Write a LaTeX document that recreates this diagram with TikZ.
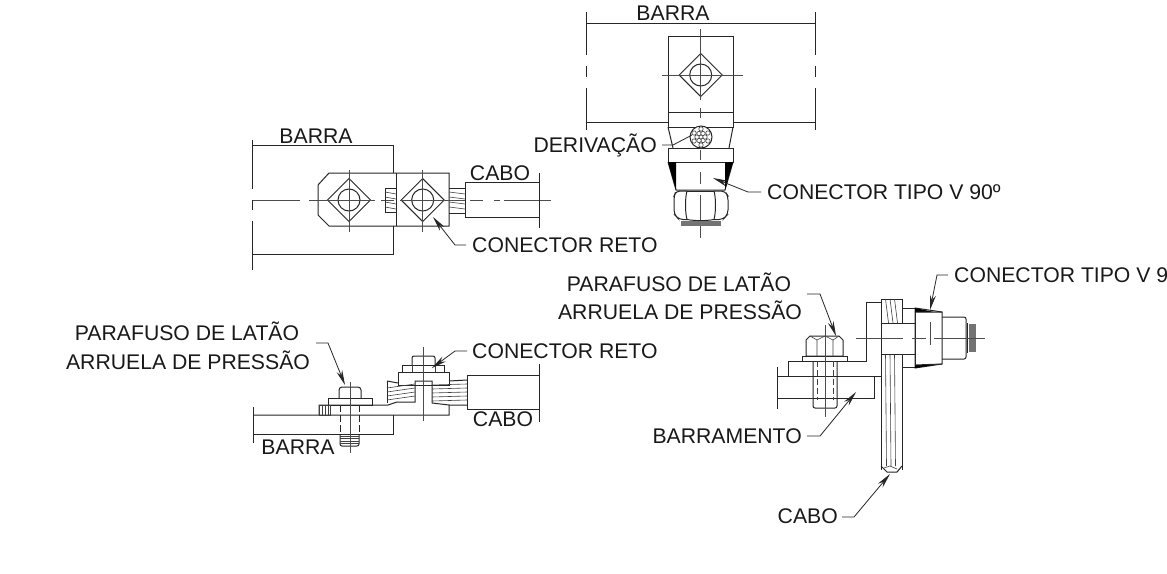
\documentclass[tikz,border=0pt]{standalone}
\usepackage{fontspec}
\setmainfont{Liberation Sans}
\usetikzlibrary{arrows.meta}
\tikzset{
  ln/.style={line width=1pt,draw=black!85},
  thin ln/.style={line width=.6pt,draw=black!75},
  ctr/.style={line width=.8pt,draw=black!70},
  lbl/.style={font=\fontsize{21.2}{23}\selectfont,inner sep=0pt,text=black!90},
  leader/.style={line width=.8pt,draw=black!85,-{Stealth[length=15pt,width=6pt]}},
}
\begin{document}
\begin{tikzpicture}[x=1pt,y=-1pt]
\useasboundingbox (0,0) rectangle (1167,573);
\clip (0,0) rectangle (1167,573);
\fill[white] (0,0) rectangle (1167,573);

% ---------- labels
\node[lbl] (b1) at (316,136) {BARRA};
\node[lbl] (c1) at (500,173) {CABO};
\node[lbl,anchor=west] (cr1) at (472,245) {CONECTOR RETO};
\node[lbl] (b2) at (673,13) {BARRA};
\node[lbl,anchor=east] (der) at (657,145) {DERIVAÇÃO};
\node[lbl,anchor=west] (cv1) at (767,192) {CONECTOR TIPO V 90º};
\node[lbl,anchor=west] (cv2) at (954,275) {CONECTOR TIPO V 9};
\node[lbl] (pa) at (679,282) {PARAFUSO DE LATÃO};
\node[lbl] (ar) at (680,310) {ARRUELA DE PRESSÃO};
\node[lbl,anchor=east] (bm) at (802,436) {BARRAMENTO};
\node[lbl,anchor=east] (c3) at (838,516) {CABO};
\node[lbl] (pb) at (187,331) {PARAFUSO DE LATÃO};
\node[lbl] (ab) at (188,360) {ARRUELA DE PRESSÃO};
\node[lbl,anchor=west] (cr2) at (472,351) {CONECTOR RETO};
\node[lbl] (c2) at (503,419) {CABO};
\node[lbl] (b3) at (298,447) {BARRA};

% ---------- VIEW 1: top-left connector
\draw[ln] (252.7,140)--(252.7,189) (252.7,200)--(252.7,210) (252.7,221)--(252.7,270);
\draw[ln] (252.7,145)--(393,145)--(393,173) (252.7,254)--(393,254)--(393,226);
\draw[ln] (329,173)--(318,185)--(318,215)--(329,226)--(449,226)--(449,173)--cycle;
\draw[ln] (396,173)--(396,226);
\foreach \cx in {349,422.7}{
  \draw[ln] (\cx-21.5,200)--(\cx,178.5)--(\cx+21.5,200)--(\cx,221.5)--cycle;
  \draw[ln] (\cx,200) circle (11);
  \draw[ctr] (\cx,170)--(\cx,232);
}
\draw[ctr] (253,200)--(300,200) (309,200)--(375,200) (381,200)--(394,200) (400,200)--(466,200) (470,200)--(483,200) (494,200)--(500,200) (504,200)--(551,200);
\draw[ln] (385,188) rectangle (396,212);
\foreach \y in {192,197,202,207}{\draw[thin ln] (385,\y)--(396,\y+2);}
\draw[ln] (465,182)--(539,182) (465,217)--(539,217) (465,182)--(465,217);
\draw[ln] (539,173)--(539,228);
\draw[ln] (449,188)--(465,188) (449,213)--(465,213);
\foreach \y in {192,197,202,207}{\draw[thin ln] (449,\y)--(465,\y+2);}

% ---------- VIEW 2: top-centre connector
\draw[ln] (586,12)--(586,55) (586,66)--(586,77) (586,88)--(586,130);
\draw[ln] (815,12)--(815,55) (815,66)--(815,77) (815,88)--(815,130);
\draw[ln] (586,23.7)--(815,23.7);
\draw[ln] (586,122.7)--(668,122.7) (733,122.7)--(815,122.7);
\draw[ln] (668,36) rectangle (733,127);
\draw[ln] (668,112)--(733,112);
\draw[ln] (668,127)--(673,148) (733,127)--(729,148);
\draw[ln] (700.7,53.5)--(722.2,75)--(700.7,96.5)--(679.2,75)--cycle;
\draw[ln] (700.7,75) circle (11);
\draw[ctr] (662,75)--(743,75) (700.7,29)--(700.7,100) (700.7,108)--(700.7,118) (700.7,150)--(700.7,160) (700.7,172)--(700.7,184) (700.7,195)--(700.7,238);
\draw[ln,fill=white] (701,137) circle (11);
\foreach \a/\r in {0/0,60/4,120/4,180/4,240/4,300/4,360/4,30/8,90/8,150/8,210/8,270/8,330/8}{
  \draw[thin ln,fill=white] (701,137)+(\a:\r) circle (2.2);
}
\draw[ln] (668,148) rectangle (733,162);
\draw[ln] (668,162)--(676,190)--(725,190)--(733,162);
\fill[black] (668,162)--(676,162)--(676,190)--cycle (733,162)--(725,162)--(725,190)--cycle;
\draw[ln,rounded corners=4pt] (687,191)--(676,191)--(674,196)--(674,214)--(679,219.5)--(687,219.5);
\draw[ln,rounded corners=4pt] (714,191)--(725,191)--(728,196)--(728,214)--(723,219.5)--(714,219.5);
\draw[ln] (687,191) .. controls (685,198) and (685,212) .. (687,219.5);
\draw[ln] (714,191) .. controls (716,198) and (716,212) .. (714,219.5);
\draw[ln] (687,219.5) .. controls (695,221) and (706,221) .. (714,219.5);
\draw[ln] (687,191)--(714,191);
\fill[black!55] (681,220.5) rectangle (721,225.5);

% ---------- VIEW 3: bottom-left connector
\draw[ln] (253,407)--(253,443);
\draw[ln] (253,415)--(449,415)--(449,405)--(432,403);
\draw[ln] (253,434)--(393,434)--(393,415);
\draw[ln] (319,415)--(319,405)--(388,405)--(397,402)--(415,402)--(415,381)--(432,381)--(432,403);
\draw[ln] (398,372) rectangle (449,385);
\draw[ln] (402,365) rectangle (444,372);
\draw[ln,rounded corners=2pt] (412,365)--(412,356)--(435,356)--(435,365);
\draw[thin ln] (412,365)--(412,372) (435,365)--(435,372);
\draw[ctr] (423,347)--(423,421);
\draw[ln] (387,381)--(387,403);
\draw[ln] (387,381)--(398,383);
\foreach \y in {386,390,394,398}{\draw[thin ln] (387,\y+2)--(415,\y-2);}
\foreach \y in {385,389,393,397,401}{\draw[thin ln] (432,\y)--(467,\y-1);}
\draw[ln] (449,381)--(467,380) (449,405)--(467,405);
\draw[ln] (467,375)--(539,375) (467,409)--(539,409) (467,375)--(467,409);
\draw[ln] (539,364)--(539,422);
% left bolt
\draw[ln] (328,405) rectangle (372,398);
\draw[ln,rounded corners=3pt] (339,398)--(339,387)--(361,387)--(361,398);
\draw[thin ln] (319,405) rectangle (330,415);
\foreach \x in {322,325,328}{\draw[thin ln] (\x,405)--(\x,415);}
\draw[ln,dashed,dash pattern=on 7pt off 3pt] (340,405)--(340,435) (359,405)--(359,435);
\draw[ln,rounded corners=2pt] (340,435)--(340,446)--(359,446)--(359,435);
\foreach \y in {436,438.5,441,443.5}{\draw[thin ln] (340,\y)--(359,\y);}
\draw[ctr] (350,382)--(350,453);

% ---------- VIEW 4: right connector
\draw[ln] (777,367)--(777,409);
\draw[ln] (777,376)--(881,376) (777,398)--(874,398)--(874,376);
\draw[ln] (788,376)--(788,361)--(866,361)--(866,302)--(881,302);
\draw[ln] (802,356) rectangle (847,361);
\draw[ln] (810,336)--(839,336)--(843,340)--(843,356)--(806,356)--(806,340)--cycle;
\draw[thin ln] (817,340)--(817,356) (833,340)--(833,356) (817,340)--(810,336) (817,340)--(825,336)--(833,340)--(839,336);
\draw[ln,rounded corners=2pt] (813,361)--(813,408)--(837,408)--(837,361);
\draw[thin ln,dashed,dash pattern=on 6pt off 3pt] (817,361)--(817,400) (833,361)--(833,400);
\draw[ctr] (825,325)--(825,417);
% cable
\draw[ln] (881,299)--(881,470) (902,308)--(902,299)--(881,299);
\draw[ln] (902,354)--(902,470);
\foreach \x in {885.5,890,894.5}{
  \draw[thin ln] (\x,299)--(\x+3,323);
  \draw[thin ln] (\x,354)--(\x+1,466);
}
\draw[ln] (881,466)--(887,472)--(897,472)--(902,466);
\draw[thin ln] (884,468)--(890,466)--(897,469);
% bolt and body
\draw[ln,fill=white] (881,323) rectangle (915,354);
\draw[ln] (902,308) rectangle (915,323) (902,354) rectangle (915,367);
\draw[ln] (915,308)--(942,312)--(942,364)--(915,368)--cycle;
\fill[black] (915,308)--(934,312)--(915,312)--cycle (915,368)--(934,365)--(915,365)--cycle;
\draw[ln] (915,312)--(942,312) (915,365)--(942,364);
\draw[ln,rounded corners=2pt] (942,317)--(966,317)--(966,359)--(942,359);
\draw[ln] (967,323)--(967,353);
\fill[black!55] (969,324) rectangle (976,352);
\draw[ctr] (856,338)--(903,338) (912,338)--(926,338) (934,338)--(985,338) (930,322)--(930,345);

% ---------- leaders
\coordinate (l1a) at (466,245); \coordinate (l1b) at (455,245); \coordinate (l1c) at (433,217);
\draw[leader] (l1a)--(l1b)--(l1c);
\coordinate (l2a) at (761,192); \coordinate (l2b) at (748,192); \coordinate (l2c) at (713,178);
\draw[leader] (l2a)--(l2b)--(l2c);
\coordinate (l3a) at (662,145); \coordinate (l3b) at (673,145); \coordinate (l3c) at (692,135);
\draw[line width=.8pt,draw=black!85] (l3a)--(l3b)--(l3c);
\coordinate (l4a) at (316,343); \coordinate (l4b) at (328,343); \coordinate (l4c) at (345,385);
\draw[leader] (l4a)--(l4b)--(l4c);
\coordinate (l5a) at (467,351); \coordinate (l5b) at (455,351); \coordinate (l5c) at (432,368);
\draw[leader] (l5a)--(l5b)--(l5c);
\coordinate (l6a) at (948,275); \coordinate (l6b) at (937,275); \coordinate (l6c) at (930,310);
\draw[leader] (l6a)--(l6b)--(l6c);
\coordinate (l7a) at (807,294); \coordinate (l7b) at (820,294); \coordinate (l7c) at (836,336);
\draw[leader] (l7a)--(l7b)--(l7c);
\coordinate (l8a) at (807,436); \coordinate (l8b) at (820,436); \coordinate (l8c) at (856,392);
\draw[leader] (l8a)--(l8b)--(l8c);
\coordinate (l9a) at (842,517); \coordinate (l9b) at (854,517); \coordinate (l9c) at (890,474);
\draw[leader] (l9a)--(l9b)--(l9c);
\end{tikzpicture}
\end{document}
